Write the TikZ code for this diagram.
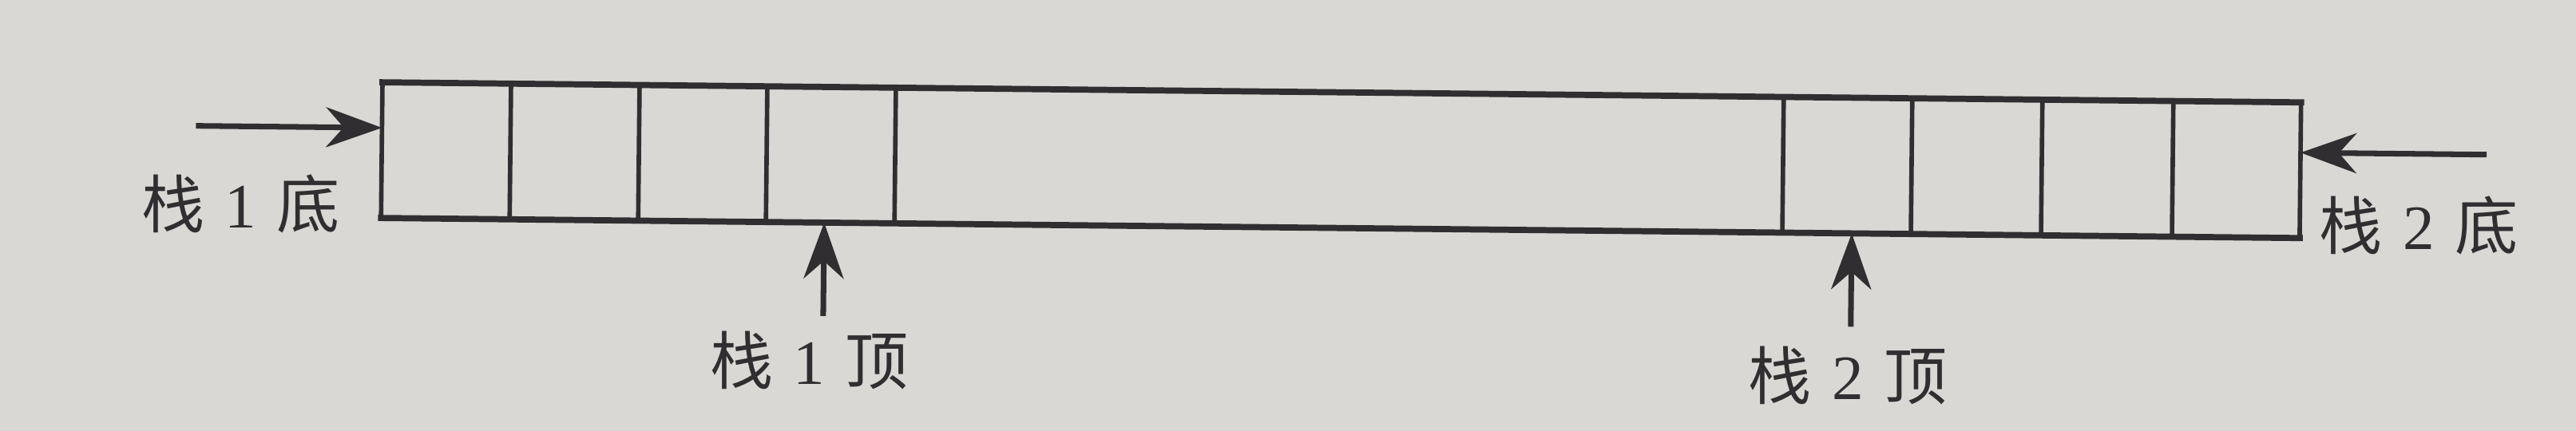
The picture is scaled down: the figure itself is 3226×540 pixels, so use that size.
\documentclass[tikz,border=0pt]{standalone}
\usepackage{fontspec}
\setmainfont{Liberation Serif}
\newfontfamily\cjkfont{Noto Sans CJK SC}
\usetikzlibrary{arrows.meta}
\definecolor{paper}{RGB}{218,216,213}
\definecolor{ink}{RGB}{48,46,48}
\newcommand{\zh}[1]{{\cjkfont #1}}
\begin{document}
\begin{tikzpicture}[x=0.01cm,y=-0.01cm,
  rail/.style={draw=ink,line width=2.2pt,line cap=rect},
  divider/.style={draw=ink,line width=1.6pt},
  pointer/.style={draw=ink,line width=2pt,-{Stealth[length=0.7cm,width=0.5cm,inset=0.22cm]}},
  lbl/.style={text=ink,font=\fontsize{22.5pt}{26pt}\selectfont,inner sep=0pt}]
\fill[paper] (0,0) rectangle (3226,540);
\useasboundingbox (0,0) rectangle (3226,540);
\begin{scope}[rotate around={-0.6:(1613,200)}]
  % box corners
  \coordinate (TL) at (478,115);
  \coordinate (TR) at (2881,115);
  \coordinate (BL) at (478,285);
  \coordinate (BR) at (2881,285);
  \draw[rail] (TL) -- (TR);
  \draw[rail] (BL) -- (BR);
  \draw[divider] (TL) -- (BL);
  \draw[divider] (TR) -- (BR);
  \foreach \x in {639,800,960,1121,2233,2394,2557,2721}
    \draw[divider] (\x,115) -- (\x,285);
  % stack 1 bottom
  \coordinate (in1tail) at (245,172);
  \coordinate (in1tip) at (478,172);
  \draw[pointer] (in1tail) -- (in1tip);
  \node[lbl] (bot1) at (302,269) {\zh{栈}\hspace{0.32em}1\hspace{0.32em}\zh{底}};
  % stack 2 bottom
  \coordinate (in2tail) at (3114,178);
  \coordinate (in2tip) at (2881,178);
  \draw[pointer] (in2tail) -- (in2tip);
  \node[lbl] (bot2) at (3030,268) {\zh{栈}\hspace{0.32em}2\hspace{0.32em}\zh{底}};
  % stack 1 top
  \coordinate (top1tail) at (1033,402);
  \coordinate (top1tip) at (1033,285);
  \draw[pointer] (top1tail) -- (top1tip);
  \node[lbl] (top1) at (1016,458) {\zh{栈}\hspace{0.32em}1\hspace{0.32em}\zh{顶}};
  % stack 2 top
  \coordinate (top2tail) at (2320,402);
  \coordinate (top2tip) at (2320,285);
  \draw[pointer] (top2tail) -- (top2tip);
  \node[lbl] (top2) at (2317,463) {\zh{栈}\hspace{0.32em}2\hspace{0.32em}\zh{顶}};
\end{scope}
\end{tikzpicture}
\end{document}
